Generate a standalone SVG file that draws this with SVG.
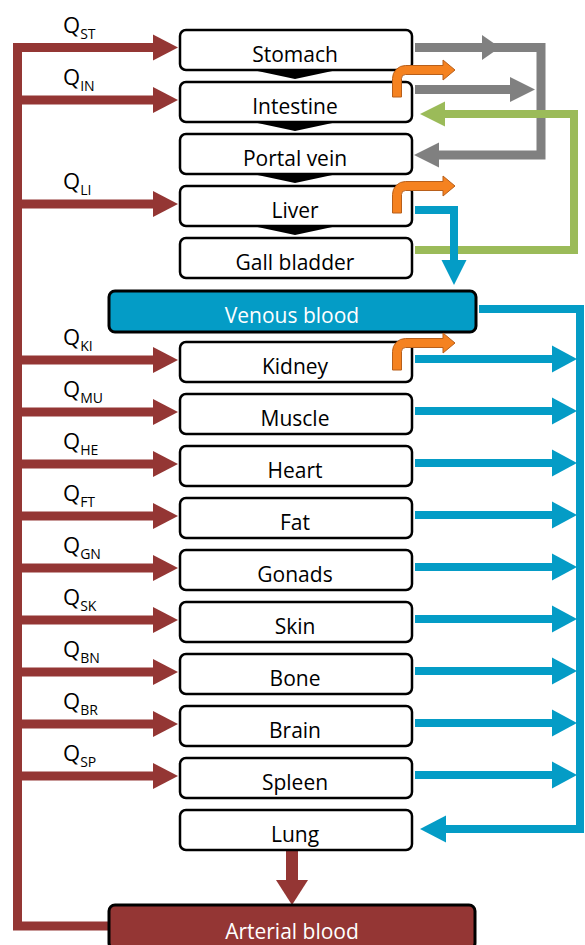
<svg xmlns="http://www.w3.org/2000/svg" width="585" height="945" viewBox="0 0 585 945">
<style>
.box{fill:#fff;stroke:#000;stroke-width:2.5}
.lbl{font-family:"Open Sans","Liberation Sans",sans-serif;font-size:21px;fill:#000;text-anchor:middle}
.wl{fill:#fff}
.q{font-family:"Open Sans","Liberation Sans",sans-serif;font-size:22px;fill:#000}
.sub{font-size:14px}
.red{stroke:#943634;stroke-width:9;fill:none}
.redf{fill:#943634}
.blue{stroke:#049CC6;stroke-width:8;fill:none}
.bluef{fill:#049CC6}
.gray{stroke:#808080;stroke-width:9;fill:none}
.grayf{fill:#808080}
.green{stroke:#9BBB59;stroke-width:8;fill:none}
.greenf{fill:#9BBB59}
.or{fill:#F58220;stroke:#B85F1A;stroke-width:1}
.chev{fill:#000}
</style>
<defs>
<polygon id="rh" points="0,-13 25,0 0,13"/>
<polygon id="bh" points="0,-13.5 25,0 0,13.5"/>
</defs>
<g id="connectors">
<!-- arterial trunk -->
<polyline class="red" points="108,926 17.5,926 17.5,47.5 153,47.5"/>
<line class="red" x1="17.5" y1="100" x2="153" y2="100"/>
<line class="red" x1="17.5" y1="204" x2="153" y2="204"/>
<line class="red" x1="17.5" y1="360" x2="153" y2="360"/>
<line class="red" x1="17.5" y1="412" x2="153" y2="412"/>
<line class="red" x1="17.5" y1="464" x2="153" y2="464"/>
<line class="red" x1="17.5" y1="516" x2="153" y2="516"/>
<line class="red" x1="17.5" y1="568" x2="153" y2="568"/>
<line class="red" x1="17.5" y1="620" x2="153" y2="620"/>
<line class="red" x1="17.5" y1="672" x2="153" y2="672"/>
<line class="red" x1="17.5" y1="724" x2="153" y2="724"/>
<line class="red" x1="17.5" y1="776" x2="153" y2="776"/>
<g class="redf">
<use href="#rh" x="153" y="47.5"/>
<use href="#rh" x="153" y="100"/>
<use href="#rh" x="153" y="204"/>
<use href="#rh" x="153" y="360"/>
<use href="#rh" x="153" y="412"/>
<use href="#rh" x="153" y="464"/>
<use href="#rh" x="153" y="516"/>
<use href="#rh" x="153" y="568"/>
<use href="#rh" x="153" y="620"/>
<use href="#rh" x="153" y="672"/>
<use href="#rh" x="153" y="724"/>
<use href="#rh" x="153" y="776"/>
</g>
<!-- lung to arterial -->
<line x1="292" y1="851" x2="292" y2="882" stroke="#943634" stroke-width="12"/>
<polygon class="redf" points="276,880 308,880 292,905"/>
<!-- gray -->
<polyline class="gray" points="415,47.5 541,47.5 541,155 438,155"/>
<polygon class="grayf" points="482,35 500,47.5 482,60"/>
<line class="gray" x1="415" y1="89.5" x2="512" y2="89.5"/>
<polygon class="grayf" points="510,77 535,89.5 510,102"/>
<polygon class="grayf" points="439,142.5 414,155 439,167.5"/>
<!-- green -->
<polyline class="green" points="415,250 574,250 574,114 443,114"/>
<polygon class="greenf" points="445,101.5 420,114 445,126.5"/>
<!-- blue liver to venous -->
<polyline class="blue" points="415,210 454,210 454,262"/>
<polygon class="bluef" points="441.5,260 466.5,260 454,285"/>
<!-- venous loop -->
<polyline class="blue" points="479,309 580,309 580,829 445,829"/>
<polygon class="bluef" points="446,815.5 420,829 446,842.5"/>
<line class="blue" x1="415" y1="359" x2="554" y2="359"/>
<line class="blue" x1="415" y1="411" x2="554" y2="411"/>
<line class="blue" x1="415" y1="463" x2="554" y2="463"/>
<line class="blue" x1="415" y1="515" x2="554" y2="515"/>
<line class="blue" x1="415" y1="567" x2="554" y2="567"/>
<line class="blue" x1="415" y1="619" x2="554" y2="619"/>
<line class="blue" x1="415" y1="671" x2="554" y2="671"/>
<line class="blue" x1="415" y1="723" x2="554" y2="723"/>
<line class="blue" x1="415" y1="775" x2="554" y2="775"/>
<g class="bluef">
<use href="#bh" x="552" y="359"/>
<use href="#bh" x="552" y="411"/>
<use href="#bh" x="552" y="463"/>
<use href="#bh" x="552" y="515"/>
<use href="#bh" x="552" y="567"/>
<use href="#bh" x="552" y="619"/>
<use href="#bh" x="552" y="671"/>
<use href="#bh" x="552" y="723"/>
<use href="#bh" x="552" y="775"/>
</g>
<!-- chevrons -->
<polygon class="chev" points="253,70 337,70 295,79"/>
<polygon class="chev" points="253,122 337,122 295,131"/>
<polygon class="chev" points="253,174 337,174 295,183"/>
<polygon class="chev" points="253,226 337,226 295,235"/>
</g>
<g id="labels">
<text class="q" x="63" y="32.5">Q<tspan class="sub" dy="6">ST</tspan></text>
<text class="q" x="63" y="85">Q<tspan class="sub" dy="6">IN</tspan></text>
<text class="q" x="63" y="189">Q<tspan class="sub" dy="6">LI</tspan></text>
<text class="q" x="63" y="345">Q<tspan class="sub" dy="6">KI</tspan></text>
<text class="q" x="63" y="397">Q<tspan class="sub" dy="6">MU</tspan></text>
<text class="q" x="63" y="449">Q<tspan class="sub" dy="6">HE</tspan></text>
<text class="q" x="63" y="501">Q<tspan class="sub" dy="6">FT</tspan></text>
<text class="q" x="63" y="553">Q<tspan class="sub" dy="6">GN</tspan></text>
<text class="q" x="63" y="605">Q<tspan class="sub" dy="6">SK</tspan></text>
<text class="q" x="63" y="657">Q<tspan class="sub" dy="6">BN</tspan></text>
<text class="q" x="63" y="709">Q<tspan class="sub" dy="6">BR</tspan></text>
<text class="q" x="63" y="761">Q<tspan class="sub" dy="6">SP</tspan></text>
</g>
<g id="stomach"><rect class="box" x="180" y="30" width="232" height="40" rx="6"/><text class="lbl" x="295" y="62">Stomach</text></g>
<g id="intestine"><rect class="box" x="180" y="82" width="232" height="40" rx="6"/><text class="lbl" x="295" y="114">Intestine</text></g>
<g id="portal-vein"><rect class="box" x="180" y="134" width="232" height="40" rx="6"/><text class="lbl" x="295" y="166">Portal vein</text></g>
<g id="liver"><rect class="box" x="180" y="186" width="232" height="40" rx="6"/><text class="lbl" x="295" y="218">Liver</text></g>
<g id="gall-bladder"><rect class="box" x="180" y="238" width="232" height="40" rx="6"/><text class="lbl" x="295" y="270">Gall bladder</text></g>
<g id="venous-blood"><rect x="109" y="291" width="367" height="41" rx="6" fill="#049CC6" stroke="#000" stroke-width="3"/><text class="lbl wl" x="292" y="323">Venous blood</text></g>
<g id="kidney"><rect class="box" x="180" y="342" width="232" height="40" rx="6"/><text class="lbl" x="295" y="374">Kidney</text></g>
<g id="muscle"><rect class="box" x="180" y="394" width="232" height="40" rx="6"/><text class="lbl" x="295" y="426">Muscle</text></g>
<g id="heart"><rect class="box" x="180" y="446" width="232" height="40" rx="6"/><text class="lbl" x="295" y="478">Heart</text></g>
<g id="fat"><rect class="box" x="180" y="498" width="232" height="40" rx="6"/><text class="lbl" x="295" y="530">Fat</text></g>
<g id="gonads"><rect class="box" x="180" y="550" width="232" height="40" rx="6"/><text class="lbl" x="295" y="582">Gonads</text></g>
<g id="skin"><rect class="box" x="180" y="602" width="232" height="40" rx="6"/><text class="lbl" x="295" y="634">Skin</text></g>
<g id="bone"><rect class="box" x="180" y="654" width="232" height="40" rx="6"/><text class="lbl" x="295" y="686">Bone</text></g>
<g id="brain"><rect class="box" x="180" y="706" width="232" height="40" rx="6"/><text class="lbl" x="295" y="738">Brain</text></g>
<g id="spleen"><rect class="box" x="180" y="758" width="232" height="40" rx="6"/><text class="lbl" x="295" y="790">Spleen</text></g>
<g id="lung"><rect class="box" x="180" y="810" width="232" height="40" rx="6"/><text class="lbl" x="295" y="842">Lung</text></g>
<g id="arterial-blood"><rect x="109" y="905" width="366" height="44" rx="6" fill="#943634" stroke="#000" stroke-width="3"/><text class="lbl wl" x="292" y="939">Arterial blood</text></g>
<g id="orange-arrows">
<path class="or" d="M392.5,97 V78.5 A13,13 0 0 1 405.5,65.5 H443 V60 L455,70 L443,80 V74.5 H405.5 A4,4 0 0 0 401.5,78.5 V97 Z"/>
<path class="or" d="M392.5,213 V194.5 A13,13 0 0 1 405.5,181.5 H443 V176 L455,186 L443,196 V190.5 H405.5 A4,4 0 0 0 401.5,194.5 V213 Z"/>
<path class="or" d="M392.5,370 V351.5 A13,13 0 0 1 405.5,338.5 H443 V333 L455,343 L443,353 V347.5 H405.5 A4,4 0 0 0 401.5,351.5 V370 Z"/>
</g>
</svg>
